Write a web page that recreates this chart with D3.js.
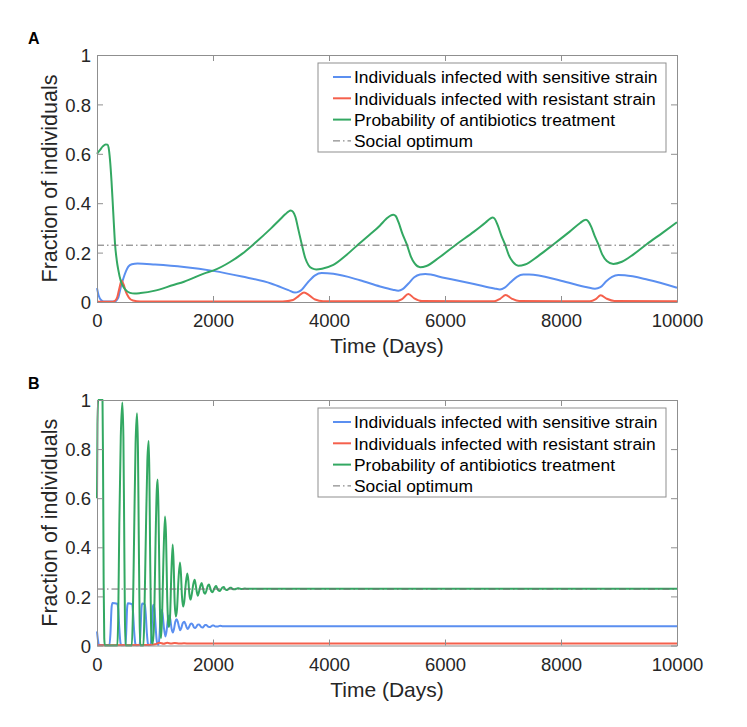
<!DOCTYPE html>
<html>
<head>
<meta charset="utf-8">
<script src="https://cdn.jsdelivr.net/npm/d3@7"></script>
<style>
  body { margin: 0; background: #fff; }
  svg { font-family: "Liberation Sans", Arial, Helvetica, sans-serif; }
</style>
</head>
<body>
<script>
// ---- data ----
var xTicks = [0, 2000, 4000, 6000, 8000, 10000];
var yTicks = [0, 0.2, 0.4, 0.6, 0.8, 1];
var legendLabels = [
  "Individuals infected with sensitive strain",
  "Individuals infected with resistant strain",
  "Probability of antibiotics treatment",
  "Social optimum"
];
var socialOptimum = 0.23;

// panel A  [day, fraction]
var sensA = [[0,0.056],[30,0.025],[70,0.008],[120,0.002],[300,0.002],[340,0.008],[370,0.02],[410,0.06],[454,0.095],[500,0.125],[540,0.143],[600,0.153],[700,0.156],[1000,0.152],[1500,0.142],[2000,0.126],[2500,0.103],[3000,0.075],[3300,0.048],[3414,0.038],[3480,0.042],[3530,0.05],[3644,0.082],[3760,0.108],[3874,0.117],[4075,0.114],[4534,0.088],[4880,0.063],[5100,0.05],[5195,0.046],[5270,0.052],[5370,0.075],[5470,0.1],[5570,0.111],[5660,0.113],[6000,0.097],[6500,0.073],[6850,0.055],[6948,0.051],[7030,0.058],[7130,0.08],[7240,0.102],[7350,0.111],[7450,0.111],[8000,0.086],[8450,0.06],[8586,0.054],[8680,0.06],[8780,0.084],[8880,0.102],[8988,0.109],[9100,0.108],[9500,0.09],[10000,0.058]];
var resA = [[0,0.001],[250,0.001],[310,0.005],[350,0.02],[390,0.06],[425,0.087],[460,0.07],[500,0.04],[550,0.018],[620,0.006],[750,0.002],[3200,0.002],[3380,0.008],[3480,0.025],[3569,0.038],[3660,0.027],[3760,0.01],[3900,0.003],[5150,0.003],[5260,0.012],[5368,0.032],[5470,0.015],[5600,0.004],[6850,0.003],[6950,0.013],[7046,0.028],[7150,0.014],[7280,0.004],[8500,0.003],[8600,0.012],[8684,0.027],[8790,0.013],[8920,0.004],[10000,0.003]];
var treatA = [[0,0.60],[50,0.615],[100,0.63],[150,0.638],[180,0.637],[200,0.625],[224,0.576],[250,0.49],[270,0.407],[290,0.32],[310,0.238],[340,0.17],[367,0.13],[410,0.085],[454,0.062],[510,0.045],[570,0.037],[650,0.034],[750,0.036],[1000,0.046],[1316,0.069],[1500,0.082],[1890,0.119],[2000,0.127],[2300,0.163],[2500,0.195],[2700,0.234],[3000,0.298],[3150,0.333],[3250,0.356],[3300,0.366],[3340,0.37],[3380,0.365],[3420,0.345],[3470,0.295],[3530,0.234],[3590,0.178],[3650,0.148],[3710,0.136],[3780,0.132],[3880,0.135],[4075,0.15],[4300,0.19],[4480,0.228],[4700,0.272],[4880,0.31],[4980,0.335],[5060,0.35],[5110,0.353],[5150,0.348],[5200,0.322],[5260,0.28],[5340,0.234],[5410,0.185],[5480,0.155],[5570,0.141],[5680,0.146],[5900,0.18],[6200,0.234],[6500,0.285],[6700,0.322],[6780,0.338],[6822,0.342],[6860,0.336],[6910,0.31],[6970,0.27],[7034,0.234],[7100,0.19],[7170,0.162],[7264,0.147],[7380,0.152],[7600,0.185],[7873,0.234],[8150,0.285],[8330,0.32],[8400,0.331],[8431,0.333],[8470,0.326],[8520,0.305],[8580,0.268],[8643,0.234],[8710,0.193],[8790,0.166],[8902,0.154],[9050,0.163],[9250,0.193],[9477,0.234],[9750,0.28],[10000,0.323]];

// panel B  [day, fraction]
var sensB = [[0,0.057],[15,0.025],[35,0.002],[215,0.002],[232,0.05],[250,0.15],[264,0.173],[350,0.17],[365,0.15],[385,0.07],[405,0.01],[420,0.001],[490,0.002],[505,0.06],[520,0.155],[532,0.172],[605,0.168],[620,0.14],[640,0.06],[660,0.008],[672,0.001],[735,0.002],[750,0.06],[768,0.155],[780,0.171],[825,0.167],[840,0.13],[860,0.05],[880,0.005],[890,0.001],[925,0.005],[942,0.06],[958,0.145],[971,0.166],[990,0.15],[1005,0.1],[1025,0.03],[1045,0.005],[1060,0.003],[1075,0.03],[1095,0.11],[1115,0.146],[1135,0.12],[1155,0.07],[1180,0.037],[1200,0.06],[1222,0.105],[1245,0.122],[1265,0.105],[1285,0.07],[1308,0.053],[1330,0.07],[1350,0.097],[1373,0.107],[1395,0.095],[1415,0.075],[1435,0.062],[1455,0.072],[1480,0.092],[1505,0.097],[1525,0.088],[1545,0.074],[1565,0.067],[1585,0.074],[1610,0.087],[1632,0.09],[1652,0.084],[1672,0.074],[1692,0.071],[1712,0.076],[1737,0.085],[1758,0.086],[1778,0.081],[1798,0.075],[1818,0.073],[1840,0.077],[1865,0.083],[1885,0.083],[1905,0.079],[1925,0.076],[1945,0.075],[1968,0.078],[1992,0.081],[2012,0.081],[2035,0.078],[2055,0.077],[2078,0.077],[2100,0.079],[2125,0.08],[2150,0.079],[2180,0.078],[2250,0.078],[10000,0.078]];
var resB = [[0,0.001],[900,0.002],[1000,0.005],[1080,0.011],[1150,0.007],[1210,0.011],[1280,0.008],[1340,0.01],[1420,0.008],[1500,0.009],[1600,0.008],[10000,0.008]];
var treatB = [[0,0.6],[8,0.9],[20,1],[95,1],[105,0.7],[115,0.25],[125,0.03],[135,0],[350,0],[365,0.1],[385,0.5],[410,0.85],[437,0.99],[455,0.85],[468,0.5],[482,0.1],[495,0],[600,0],[618,0.12],[640,0.45],[665,0.82],[690,0.946],[706,0.8],[720,0.45],[735,0.1],[748,0],[800,0],[815,0.1],[840,0.42],[868,0.75],[891,0.833],[903,0.7],[915,0.4],[932,0.08],[950,0.01],[962,0.008],[985,0.1],[1010,0.43],[1030,0.63],[1046,0.676],[1060,0.55],[1075,0.3],[1090,0.08],[1103,0.03],[1120,0.1],[1145,0.35],[1172,0.525],[1190,0.45],[1210,0.2],[1230,0.085],[1241,0.075],[1260,0.12],[1280,0.28],[1305,0.411],[1322,0.33],[1340,0.17],[1360,0.118],[1380,0.15],[1405,0.27],[1431,0.338],[1448,0.29],[1465,0.2],[1485,0.159],[1505,0.18],[1530,0.25],[1557,0.293],[1575,0.265],[1592,0.21],[1612,0.187],[1635,0.21],[1660,0.25],[1684,0.268],[1700,0.25],[1718,0.222],[1738,0.203],[1760,0.22],[1785,0.245],[1804,0.255],[1822,0.24],[1845,0.216],[1864,0.211],[1885,0.222],[1910,0.243],[1930,0.248],[1948,0.238],[1968,0.222],[1990,0.217],[2012,0.226],[2035,0.238],[2055,0.242],[2075,0.232],[2095,0.224],[2115,0.222],[2140,0.229],[2165,0.237],[2185,0.238],[2205,0.231],[2225,0.227],[2245,0.226],[2270,0.231],[2295,0.235],[2315,0.235],[2335,0.231],[2355,0.229],[2375,0.229],[2400,0.231],[2425,0.233],[2445,0.233],[2470,0.231],[2495,0.23],[2520,0.231],[2550,0.232],[2600,0.231],[10000,0.231]];

var colors = ["#5b8ff0", "#f5604c", "#33a862", "#6e6e6e"];
var axisColor = "#8f8f8f";
var textColor = "#262626";

function main(){
    var svg = d3.select("body").append("svg")
        .attr("width", 747)
        .attr("height", 727);

    var x = d3.scaleLinear().domain([0, 10000]).range([97, 677]);

    drawPanel(svg, x, 55, 302, "A", [sensA, resA, treatA], 63);
    drawPanel(svg, x, 400, 645.5, "B", [sensB, resB, treatB], 408);
}

function drawPanel(svg, x, top, bottom, letter, series, legendTop){
    var y = d3.scaleLinear().domain([0, 1]).range([bottom, top]);
    var g = svg.append("g");

    var line = d3.line()
        .x(function(d){ return x(d[0]); })
        .y(function(d){ return y(d[1]); })
        .curve(d3.curveMonotoneX);

    // curves: sensitive, resistant, treatment
    series.forEach(function(s, i){
        g.append("path")
            .datum(s)
            .attr("d", line)
            .attr("fill", "none")
            .attr("stroke", colors[i])
            .attr("stroke-width", 2)
            .attr("stroke-linejoin", "round");
    });

    // social optimum
    g.append("path")
        .datum([[0, socialOptimum], [10000, socialOptimum]])
        .attr("d", line.curve(d3.curveLinear))
        .attr("fill", "none")
        .attr("stroke", colors[3])
        .attr("stroke-width", 1)
        .attr("stroke-dasharray", "7,3,1.5,3");

    // axes (box with inward ticks)
    g.append("g")
        .attr("transform", "translate(0," + bottom + ")")
        .call(d3.axisBottom(x).tickValues(xTicks).tickSizeInner(-6).tickSizeOuter(0).tickPadding(12)
            .tickFormat(d3.format("d")));
    g.append("g")
        .attr("transform", "translate(0," + top + ")")
        .call(d3.axisTop(x).tickValues(xTicks).tickSizeInner(-6).tickSizeOuter(0).tickFormat(""));
    var yAxis = g.append("g")
        .attr("transform", "translate(" + x(0) + ",0)")
        .call(d3.axisLeft(y).tickValues(yTicks).tickSizeInner(-6).tickSizeOuter(0).tickPadding(6)
            .tickFormat(d3.format("~g")));
    g.append("g")
        .attr("transform", "translate(" + x(10000) + ",0)")
        .call(d3.axisRight(y).tickValues(yTicks).tickSizeInner(-6).tickSizeOuter(0).tickFormat(""));

    g.selectAll(".domain, .tick line").attr("stroke", axisColor);
    g.selectAll(".tick text")
        .attr("fill", textColor)
        .attr("font-size", "18.5px")
        .attr("font-family", "Liberation Sans, Arial, sans-serif");
    yAxis.selectAll(".tick text").attr("dy", "0.36em");

    // axis titles
    g.append("text")
        .attr("x", (x(0) + x(10000)) / 2)
        .attr("y", bottom + 51)
        .attr("text-anchor", "middle")
        .attr("font-size", "21px")
        .attr("fill", textColor)
        .text("Time (Days)");

    g.append("text")
        .attr("transform", "translate(57," + ((top + bottom) / 2) + ") rotate(-90)")
        .attr("text-anchor", "middle")
        .attr("font-size", "21.5px")
        .attr("fill", textColor)
        .text("Fraction of individuals");

    // panel letter
    g.append("text")
        .attr("x", 28)
        .attr("y", top - 11)
        .attr("font-size", "16px")
        .attr("font-weight", "bold")
        .attr("fill", "#000")
        .text(letter);

    // legend
    var lg = g.append("g").attr("transform", "translate(318," + legendTop + ")");
    lg.append("rect")
        .attr("width", 348)
        .attr("height", 89)
        .attr("fill", "#fff")
        .attr("stroke", axisColor)
        .attr("stroke-width", 1);

    legendLabels.forEach(function(label, i){
        var ly = 14 + i * 21.3;
        var sample = lg.append("line")
            .attr("x1", 15).attr("x2", 33)
            .attr("y1", ly).attr("y2", ly)
            .attr("stroke", colors[i])
            .attr("stroke-width", i < 3 ? 2 : 1);
        if (i === 3) sample.attr("stroke-dasharray", "7,3,1.5,3");
        lg.append("text")
            .attr("x", 36)
            .attr("y", ly)
            .attr("dy", "0.36em")
            .attr("font-size", "17.4px")
            .attr("fill", "#000")
            .text(label);
    });
}

main();
</script>
</body>
</html>
